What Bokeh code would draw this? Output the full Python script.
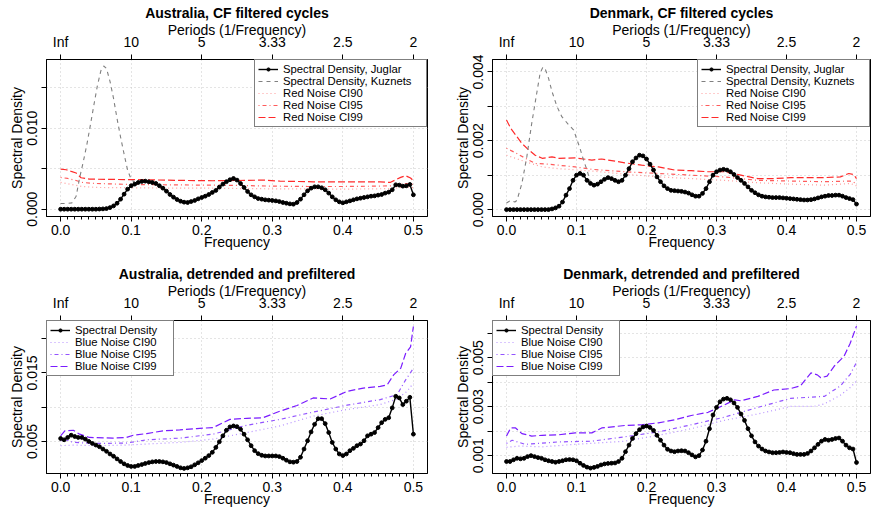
from bokeh.plotting import figure
from bokeh.models import Range1d, LinearAxis, FixedTicker, NumeralTickFormatter, Legend, LegendItem
from bokeh.layouts import column, row
from bokeh.embed import file_html
from bokeh.resources import INLINE

FONT = "Liberation Sans"

# ---------------- data ----------------
freq = [k / 200 for k in range(101)]          # Fourier frequencies 0 .. 0.5

x_major = [0.0, 0.1, 0.2, 0.3, 0.4, 0.5]
x_minor = [k / 100 for k in range(51)]
period_labels = ["Inf", "10", "5", "3.33", "2.5", "2"]

# Australia, CF filtered cycles
aus_cf_juglar = [
    0, 0, 0, 0, 0, 0, 0, 0, 0, 0,
    0, 0.00002, 0.00004, 0.00008, 0.0002, 0.00041, 0.00074, 0.00124, 0.00186, 0.00248,
    0.0029, 0.0031, 0.0033, 0.00343, 0.00347, 0.00339, 0.0033, 0.00318, 0.0029, 0.0026,
    0.00223, 0.00182, 0.00149, 0.0012, 0.00099, 0.00087, 0.00083, 0.00095, 0.00108, 0.00128,
    0.00145, 0.00161, 0.00182, 0.00207, 0.00232, 0.00273, 0.0031, 0.0034, 0.00364, 0.0038,
    0.0036, 0.00318, 0.00269, 0.00219, 0.00178, 0.00153, 0.00132, 0.00124, 0.00116, 0.00112,
    0.00108, 0.00103, 0.00095, 0.00083, 0.00074, 0.00066, 0.00062, 0.00083, 0.00124, 0.00178,
    0.00227, 0.0026, 0.00277, 0.00277, 0.00265, 0.0024, 0.00199, 0.00153, 0.00116, 0.00091,
    0.00079, 0.00091, 0.00103, 0.00116, 0.00128, 0.00136, 0.00145, 0.00153, 0.00161, 0.00165,
    0.00174, 0.00182, 0.00199, 0.00211, 0.0024, 0.00302, 0.00298, 0.00285, 0.00289, 0.00306,
    0.00178]
aus_cf_kuz_f = [0, 0.01, 0.016, 0.022, 0.027, 0.032, 0.037, 0.042, 0.047, 0.052, 0.057, 0.061,
                0.065, 0.07, 0.075, 0.08, 0.085, 0.09, 0.095, 0.1, 0.105]
aus_cf_kuz = [0.0007, 0.00072, 0.00078, 0.0016, 0.0039, 0.0058, 0.0079, 0.0103, 0.0128, 0.0152,
              0.0171, 0.0177, 0.0174, 0.0158, 0.0137, 0.0112, 0.0089, 0.0068, 0.0048, 0.0037, 0.0033]
aus_cf_ci99_f = [0, 0.008, 0.015, 0.022, 0.029, 0.041, 0.074, 0.122, 0.169, 0.216, 0.264, 0.287,
                 0.311, 0.358, 0.406, 0.453, 0.467, 0.482, 0.489, 0.496, 0.5]
aus_cf_ci99 = [0.00496, 0.00488, 0.00467, 0.00447, 0.00389, 0.00372, 0.00368, 0.00364, 0.00356,
               0.00352, 0.00356, 0.0036, 0.00347, 0.00339, 0.00339, 0.00339, 0.00331, 0.00393,
               0.00414, 0.00385, 0.00352]
aus_cf_ci_f = [0, 0.01, 0.02, 0.03, 0.05, 0.1, 0.15, 0.2, 0.25, 0.3, 0.35, 0.4, 0.45, 0.47, 0.49, 0.5]
aus_cf_ci95 = [0.00393, 0.0038, 0.0036, 0.00331, 0.00318, 0.00306, 0.00302, 0.00298, 0.00294,
               0.00285, 0.00281, 0.00281, 0.00285, 0.0029, 0.00318, 0.00306]
aus_cf_ci90 = [0.00331, 0.00314, 0.00298, 0.00281, 0.00269, 0.00265, 0.00261, 0.00261, 0.00256,
               0.00252, 0.00252, 0.00248, 0.00252, 0.00256, 0.00277, 0.00265]

# Denmark, CF filtered cycles
den_cf_juglar = [
    0, 0, 0, 0, 0, 0, 0, 0, 0, 0,
    0, 0, 0, 0.00002, 0.00005, 0.0001, 0.00022, 0.00042, 0.00061, 0.00085,
    0.001, 0.00105, 0.001, 0.00085, 0.00076, 0.00071, 0.00074, 0.00081, 0.00088, 0.00093,
    0.0009, 0.00085, 0.00081, 0.00085, 0.001, 0.00119, 0.00139, 0.0015, 0.00158, 0.00156,
    0.00147, 0.00132, 0.00115, 0.00095, 0.00081, 0.00069, 0.00061, 0.00056, 0.00055, 0.00054,
    0.00053, 0.00051, 0.00048, 0.00043, 0.00039, 0.00039, 0.00047, 0.00061, 0.00081, 0.001,
    0.0011, 0.00115, 0.00117, 0.00115, 0.0011, 0.00102, 0.00093, 0.00085, 0.00076, 0.00066,
    0.00056, 0.00049, 0.00043, 0.00039, 0.00037, 0.00036, 0.00035, 0.00035, 0.00035, 0.00034,
    0.00033, 0.00032, 0.00031, 0.0003, 0.00029, 0.00028, 0.00028, 0.00029, 0.00031, 0.00034,
    0.00037, 0.00039, 0.00041, 0.00041, 0.00042, 0.00042, 0.00039, 0.00035, 0.00032, 0.00029,
    0.00016]
den_cf_kuz_f = [0, 0.006, 0.012, 0.015, 0.022, 0.029, 0.036, 0.044, 0.048, 0.052, 0.055, 0.06,
                0.065, 0.072, 0.079, 0.089, 0.096, 0.1, 0.105, 0.11, 0.115, 0.12]
den_cf_kuz = [0.00019, 0.00027, 0.00022, 0.00027, 0.00076, 0.00153, 0.0025, 0.00348, 0.00396,
              0.00414, 0.0041, 0.00382, 0.00343, 0.003, 0.0027, 0.00246, 0.00231, 0.00207,
              0.00178, 0.00144, 0.00115, 0.00078]
den_cf_ci99_f = [0, 0.006, 0.013, 0.022, 0.032, 0.041, 0.051, 0.065, 0.074, 0.098, 0.122, 0.136,
                 0.169, 0.193, 0.217, 0.24, 0.264, 0.288, 0.311, 0.335, 0.359, 0.382, 0.406,
                 0.43, 0.454, 0.477, 0.489, 0.496, 0.5]
den_cf_ci99 = [0.0026, 0.00236, 0.00217, 0.00192, 0.00173, 0.00158, 0.00149, 0.00153, 0.00149,
               0.0015, 0.00144, 0.00147, 0.00136, 0.00129, 0.00124, 0.00115, 0.00113, 0.0011,
               0.0011, 0.001, 0.0009, 0.0009, 0.00093, 0.00093, 0.00093, 0.00095, 0.00105,
               0.00102, 0.0009]
den_cf_ci95_f = [0, 0.013, 0.027, 0.041, 0.06, 0.074, 0.098, 0.122, 0.169, 0.217, 0.264, 0.311,
                 0.359, 0.406, 0.454, 0.491, 0.5]
den_cf_ci95 = [0.00178, 0.00165, 0.00149, 0.00134, 0.00132, 0.00129, 0.00124, 0.00117, 0.0011,
               0.00105, 0.001, 0.00095, 0.00085, 0.00083, 0.00081, 0.00083, 0.00076]
den_cf_ci90_f = [0, 0.027, 0.051, 0.074, 0.122, 0.169, 0.217, 0.264, 0.311, 0.359, 0.406, 0.454,
                 0.491, 0.5]
den_cf_ci90 = [0.00158, 0.00139, 0.00124, 0.00119, 0.00112, 0.00103, 0.00095, 0.0009, 0.00085,
               0.00078, 0.00074, 0.00071, 0.00076, 0.00069]

# Australia, detrended and prefiltered
aus_dt_juglar = [
    0.00543, 0.00524, 0.00558, 0.00591, 0.00572, 0.00558, 0.00558, 0.00534, 0.005, 0.00471,
    0.00447, 0.00423, 0.00389, 0.00356, 0.00317, 0.00284, 0.00245, 0.00207, 0.00173, 0.00149,
    0.00135, 0.00135, 0.00149, 0.00163, 0.00178, 0.00192, 0.00202, 0.00207, 0.00207, 0.00202,
    0.00192, 0.00173, 0.00154, 0.00135, 0.00115, 0.00106, 0.00115, 0.0013, 0.00159, 0.00188,
    0.00221, 0.00255, 0.00293, 0.00341, 0.00413, 0.00495, 0.00582, 0.00663, 0.00712, 0.00726,
    0.00716, 0.00678, 0.00606, 0.00524, 0.00438, 0.00365, 0.00322, 0.00298, 0.00288, 0.00288,
    0.00288, 0.00288, 0.00279, 0.00255, 0.00226, 0.00202, 0.00197, 0.00207, 0.00269, 0.00389,
    0.0051, 0.00639, 0.0075, 0.00832, 0.00832, 0.0076, 0.0063, 0.00486, 0.00389, 0.00317,
    0.00293, 0.00317, 0.00365, 0.00399, 0.00438, 0.00462, 0.0051, 0.00582, 0.00606, 0.0063,
    0.00702, 0.00774, 0.00822, 0.00846, 0.0099, 0.01159, 0.01135, 0.01038, 0.01087, 0.01144,
    0.00606]
aus_dt_ci99_f = [0, 0.006, 0.018, 0.027, 0.041, 0.074, 0.093, 0.103, 0.122, 0.145, 0.169, 0.193,
                 0.216, 0.24, 0.264, 0.287, 0.311, 0.335, 0.358, 0.382, 0.406, 0.429, 0.453,
                 0.463, 0.472, 0.482, 0.489, 0.496, 0.5]
aus_dt_ci99 = [0.00582, 0.00654, 0.00663, 0.00606, 0.00558, 0.00548, 0.00558, 0.00591, 0.00615,
               0.00654, 0.00668, 0.00688, 0.00702, 0.00822, 0.00837, 0.00846, 0.00942, 0.01024,
               0.01135, 0.0112, 0.01231, 0.01279, 0.01303, 0.01327, 0.01471, 0.01567, 0.01784,
               0.0188, 0.02178]
aus_dt_ci95_f = [0, 0.008, 0.018, 0.05, 0.093, 0.122, 0.169, 0.216, 0.264, 0.311, 0.358, 0.406,
                 0.453, 0.477, 0.489, 0.5]
aus_dt_ci95 = [0.0051, 0.00524, 0.00486, 0.00471, 0.00476, 0.00524, 0.00548, 0.00606, 0.00736,
               0.00822, 0.00928, 0.01029, 0.01111, 0.01183, 0.01399, 0.01567]
aus_dt_ci90_f = [0, 0.018, 0.05, 0.093, 0.122, 0.169, 0.216, 0.264, 0.311, 0.358, 0.406, 0.453,
                 0.477, 0.491, 0.5]
aus_dt_ci90 = [0.00438, 0.00447, 0.00438, 0.00447, 0.00462, 0.00486, 0.00534, 0.0063, 0.00726,
               0.0087, 0.00966, 0.01038, 0.0112, 0.01231, 0.01351]

# Denmark, detrended and prefiltered
den_dt_juglar = [
    0.00076, 0.00076, 0.00083, 0.00089, 0.00087, 0.00089, 0.00096, 0.001, 0.00096, 0.00092,
    0.00089, 0.00083, 0.00079, 0.00076, 0.00073, 0.00076, 0.00079, 0.00083, 0.00084, 0.00083,
    0.00079, 0.00069, 0.0006, 0.00053, 0.00049, 0.00052, 0.00056, 0.00062, 0.00066, 0.00068,
    0.00069, 0.0007, 0.00076, 0.00089, 0.00116, 0.00143, 0.0017, 0.0019, 0.00206, 0.00217,
    0.00221, 0.00215, 0.00203, 0.00183, 0.00163, 0.00143, 0.00126, 0.00119, 0.00116, 0.00119,
    0.0012, 0.00119, 0.00112, 0.00103, 0.00095, 0.001, 0.00123, 0.00159, 0.0021, 0.00266,
    0.00297, 0.0032, 0.00331, 0.00334, 0.00328, 0.00315, 0.00297, 0.0027, 0.00244, 0.0021,
    0.00181, 0.00156, 0.00139, 0.00127, 0.00119, 0.00115, 0.00112, 0.00112, 0.00113, 0.00115,
    0.00113, 0.00112, 0.00108, 0.00105, 0.00105, 0.00105, 0.00109, 0.00119, 0.00132, 0.00146,
    0.00159, 0.00166, 0.00163, 0.00166, 0.0017, 0.00172, 0.00159, 0.00143, 0.00132, 0.00127,
    0.00072]
den_dt_ci99_f = [0, 0.006, 0.013, 0.022, 0.036, 0.051, 0.074, 0.098, 0.122, 0.136, 0.169, 0.193,
                 0.217, 0.24, 0.264, 0.288, 0.311, 0.326, 0.335, 0.359, 0.382, 0.406, 0.42,
                 0.435, 0.444, 0.449, 0.458, 0.468, 0.482, 0.491, 0.5]
den_dt_ci99 = [0.0018, 0.00213, 0.00213, 0.0019, 0.0018, 0.00183, 0.00185, 0.00193, 0.00193,
               0.00213, 0.00223, 0.00226, 0.00234, 0.00246, 0.00264, 0.00277, 0.00307, 0.00328,
               0.00324, 0.00342, 0.00368, 0.00374, 0.00385, 0.00438, 0.0043, 0.00418, 0.00425,
               0.00465, 0.00505, 0.00559, 0.00629]
den_dt_ci95_f = [0, 0.008, 0.027, 0.074, 0.122, 0.169, 0.217, 0.264, 0.311, 0.359, 0.406, 0.454,
                 0.477, 0.491, 0.5]
den_dt_ci95 = [0.0015, 0.00163, 0.00146, 0.00156, 0.00159, 0.00177, 0.00197, 0.00226, 0.00257,
               0.00297, 0.00334, 0.00342, 0.00385, 0.00432, 0.00481]
den_dt_ci90_f = [0, 0.018, 0.051, 0.098, 0.169, 0.217, 0.264, 0.311, 0.359, 0.406, 0.439, 0.454,
                 0.477, 0.491, 0.5]
den_dt_ci90 = [0.00134, 0.00139, 0.00136, 0.00146, 0.00159, 0.00183, 0.0021, 0.00244, 0.0027,
               0.00301, 0.00301, 0.00311, 0.00347, 0.00378, 0.00405]

# ---------------- styling helpers ----------------
RED90, RED95, RED99 = "#ff9c9c", "#ff5c5c", "#ff2a2a"
BLUE90, BLUE95, BLUE99 = "#b690ff", "#9354ff", "#7a1cff"
DOT = "1 3"
DOTDASH = "1 3 4 3"
LONGDASH = "7 3"
DASHED = "4 4"


def make_panel(title, fw, fh, bl, br, bt, bb, yr, ylab, yminor):
    p = figure(frame_width=fw, frame_height=fh,
               x_range=Range1d(-0.02, 0.52), y_range=Range1d(*yr),
               output_backend="svg", toolbar_location=None,
               min_border_left=bl, min_border_right=br,
               min_border_top=bt, min_border_bottom=bb, title=title)
    p.title.text_font = FONT
    p.title.text_font_size = "14px"
    p.title.text_font_style = "bold"
    p.title.text_color = "black"
    p.title.align = "center"
    p.title.standoff = -4
    p.title.text_line_height = 1.0
    p.outline_line_color = "black"
    p.outline_line_alpha = 1.0
    p.background_fill_color = "white"
    p.border_fill_color = "white"

    # bottom axis
    xa = p.xaxis[0]
    xa.ticker = FixedTicker(ticks=x_major, minor_ticks=x_minor)
    xa.formatter = NumeralTickFormatter(format="0.0")
    xa.axis_label = "Frequency"
    # left axis
    ya = p.yaxis[0]
    ya.ticker = FixedTicker(ticks=ylab, minor_ticks=yminor)
    ya.formatter = NumeralTickFormatter(format="0.000")
    ya.axis_label = "Spectral Density"
    ya.major_label_orientation = "vertical"
    ya.minor_tick_out = 5
    ya.minor_tick_in = 0
    # top axis
    ta = LinearAxis(ticker=FixedTicker(ticks=x_major),
                    major_label_overrides={v: lab for v, lab in zip(x_major, period_labels)},
                    axis_label="Periods (1/Frequency)")
    p.add_layout(ta, "above")

    for ax in (xa, ya, ta):
        ax.axis_line_color = "black"
        ax.major_tick_line_color = "black"
        ax.major_tick_out = 5
        ax.major_tick_in = 0
        ax.major_label_text_font = FONT
        ax.major_label_text_font_size = "14px"
        ax.major_label_text_color = "black"
        ax.major_label_text_line_height = 1.0
        ax.axis_label_text_font = FONT
        ax.axis_label_text_font_size = "14px"
        ax.axis_label_text_font_style = "normal"
        ax.axis_label_text_color = "black"
        ax.axis_label_text_line_height = 1.0
    xa.major_label_standoff = 3
    xa.axis_label_standoff = -4
    ya.major_label_standoff = 4
    ya.axis_label_standoff = 0
    ta.major_label_standoff = 5
    ta.axis_label_standoff = -7
    xa.minor_tick_line_color = "black"
    xa.minor_tick_out = 3
    xa.minor_tick_in = 0
    ta.minor_tick_line_color = None

    p.xgrid.ticker = FixedTicker(ticks=x_major)
    p.ygrid.ticker = FixedTicker(ticks=ylab, minor_ticks=yminor)
    for g in (p.xgrid[0], p.ygrid[0]):
        g.grid_line_color = "#c8c8c8"
        g.grid_line_dash = DOT
        g.grid_line_width = 1
    p.ygrid[0].minor_grid_line_color = "#c8c8c8"
    p.ygrid[0].minor_grid_line_dash = DOT
    return p


def style_legend(items, loc, label_w):
    lg = Legend(items=items, location=loc)
    lg.label_text_font = FONT
    lg.label_text_font_size = "11.3px"
    lg.label_text_color = "black"
    lg.label_text_line_height = 0.8
    lg.spacing = 0
    lg.padding = 3
    lg.margin = 0
    lg.border_line_color = "black"
    lg.border_line_width = 1
    lg.background_fill_color = "white"
    lg.background_fill_alpha = 1.0
    lg.glyph_width = 20
    lg.glyph_height = 8
    lg.label_height = 8
    lg.label_width = label_w
    lg.label_standoff = 5
    return lg


def add_cf(p, jug, kf, kv, c99f, c99, c95f, c95, c90f, c90):
    r90 = p.line(c90f, c90, line_color=RED90, line_dash=DOT, line_width=1.2)
    r95 = p.line(c95f, c95, line_color=RED95, line_dash=DOTDASH, line_width=1.2)
    r99 = p.line(c99f, c99, line_color=RED99, line_dash=LONGDASH, line_width=1.2)
    rk = p.line(kf, kv, line_color="#808080", line_dash=DASHED, line_width=1.1)
    rl = p.line(freq, jug, line_color="black", line_width=1.4)
    rs = p.scatter(freq, jug, size=3.8, color="black")
    items = [LegendItem(label="Spectral Density, Juglar", renderers=[rl, rs]),
             LegendItem(label="Spectral Density, Kuznets", renderers=[rk]),
             LegendItem(label="Red Noise CI90", renderers=[r90]),
             LegendItem(label="Red Noise CI95", renderers=[r95]),
             LegendItem(label="Red Noise CI99", renderers=[r99])]
    p.add_layout(style_legend(items, "top_right", 140))


def add_dt(p, jug, c99f, c99, c95f, c95, c90f, c90):
    r90 = p.line(c90f, c90, line_color=BLUE90, line_dash=DOT, line_width=1.2)
    r95 = p.line(c95f, c95, line_color=BLUE95, line_dash=DOTDASH, line_width=1.2)
    r99 = p.line(c99f, c99, line_color=BLUE99, line_dash=LONGDASH, line_width=1.2)
    rl = p.line(freq, jug, line_color="black", line_width=1.4)
    rs = p.scatter(freq, jug, size=3.8, color="black")
    items = [LegendItem(label="Spectral Density", renderers=[rl, rs]),
             LegendItem(label="Blue Noise CI90", renderers=[r90]),
             LegendItem(label="Blue Noise CI95", renderers=[r95]),
             LegendItem(label="Blue Noise CI99", renderers=[r99])]
    p.add_layout(style_legend(items, "top_left", 95))


p1 = make_panel("Australia, CF filtered cycles", 381, 157, 46, 20, 59, 45,
                (-0.0009, 0.0185), [0.0, 0.01], [0.005, 0.015])
add_cf(p1, aus_cf_juglar, aus_cf_kuz_f, aus_cf_kuz, aus_cf_ci99_f, aus_cf_ci99,
       aus_cf_ci_f, aus_cf_ci95, aus_cf_ci_f, aus_cf_ci90)

p2 = make_panel("Denmark, CF filtered cycles", 378, 157, 45, 1, 59, 45,
                (-0.0002, 0.00436), [0.0, 0.002, 0.004], [0.001, 0.003])
add_cf(p2, den_cf_juglar, den_cf_kuz_f, den_cf_kuz, den_cf_ci99_f, den_cf_ci99,
       den_cf_ci95_f, den_cf_ci95, den_cf_ci90_f, den_cf_ci90)

p3 = make_panel("Australia, detrended and prefiltered", 381, 153, 46, 20, 59, 39,
                (0.00032, 0.02265), [0.005, 0.015], [0.01, 0.02])
add_dt(p3, aus_dt_juglar, aus_dt_ci99_f, aus_dt_ci99, aus_dt_ci95_f, aus_dt_ci95,
       aus_dt_ci90_f, aus_dt_ci90)

p4 = make_panel("Denmark, detrended and prefiltered", 378, 153, 45, 1, 59, 39,
                (0.00027, 0.00652), [0.001, 0.003, 0.005], [0.002, 0.004, 0.006])
add_dt(p4, den_dt_juglar, den_dt_ci99_f, den_dt_ci99, den_dt_ci95_f, den_dt_ci95,
       den_dt_ci90_f, den_dt_ci90)

layout = column(row(p1, p2), row(p3, p4))
open("out.html", "w").write(file_html(layout, INLINE))
